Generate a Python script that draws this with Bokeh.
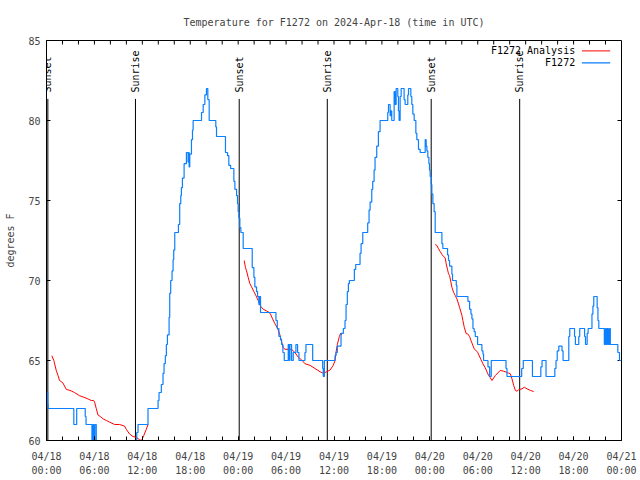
import math
from bokeh.plotting import figure
from bokeh.models import Range1d, FixedTicker
from bokeh.embed import file_html
from bokeh.resources import INLINE
from bokeh.core.properties import value

# ---------------- data (hours since 04/18 00:00 UTC, degrees F) ----------------
title_text = "Temperature for F1272 on 2024-Apr-18 (time in UTC)"
tick_hours = [0, 6, 12, 18, 24, 30, 36, 42, 48, 54, 60, 66, 72]
tick_dates = ["04/18", "04/18", "04/18", "04/18", "04/19", "04/19", "04/19",
              "04/19", "04/20", "04/20", "04/20", "04/20", "04/21"]
tick_clock = ["00:00", "06:00", "12:00", "18:00", "00:00", "06:00", "12:00",
              "18:00", "00:00", "06:00", "12:00", "18:00", "00:00"]
y_ticks = [60, 65, 70, 75, 80, 85]

sunset_t = [0.17, 24.13, 48.17]
sunrise_t = [11.14, 35.16, 59.25]

# F1272 observations (value holds from each time until the next)
blue_t = [0.00, 0.15, 0.20, 3.42, 3.78, 4.85, 4.95, 5.69, 5.81, 5.93, 6.06, 6.23,
          11.16, 11.30, 11.46, 12.71, 13.97, 14.09, 14.38, 14.59, 14.72, 14.88, 15.01,
          15.14, 15.35, 15.43, 15.55, 15.72, 15.85, 15.93, 16.06, 16.52, 16.68, 16.81,
          16.89, 17.02, 17.23, 17.52, 17.73, 17.80, 17.86, 17.94, 18.15, 18.28, 18.36,
          19.41, 19.62, 19.83, 20.03, 20.20, 20.37, 21.20, 21.29, 22.41, 22.67, 22.83,
          23.05, 23.46, 23.59, 23.80, 23.92, 24.00, 24.09, 24.21, 24.34, 24.63,
          25.76, 25.97, 26.09, 26.30, 26.43, 26.59, 26.68, 26.80,
          28.73, 28.90, 29.10, 29.30, 29.44, 29.60, 29.77,
          30.27, 30.40, 30.48, 30.69, 30.90, 31.23, 31.44, 31.61, 32.36, 32.49, 33.33,
          34.58, 34.66, 34.79,
          36.13, 36.25, 36.42, 36.88, 37.17, 37.38, 37.51, 37.67, 37.80, 37.92,
          38.55, 38.72, 39.26, 39.39, 39.60, 40.22, 40.39, 40.52, 40.73, 40.85, 41.02,
          41.14, 41.35, 41.56, 41.77,
          42.73, 42.82, 43.03, 43.15, 43.23, 43.53, 43.65, 43.78, 43.99, 44.07, 44.15,
          44.28, 44.41, 44.78, 44.91, 45.24, 45.33, 45.62, 45.74, 45.87, 46.04, 46.25,
          46.37, 46.58, 46.79,
          47.42, 47.54, 47.63, 47.75, 47.88, 47.96, 48.04, 48.17, 48.25, 48.38, 48.54, 48.67,
          49.51, 49.63, 50.22, 50.34, 50.47, 50.76, 50.84, 51.31, 51.39,
          52.77, 52.98, 53.15, 53.27, 53.40, 53.55, 53.69, 53.98, 54.52, 54.65, 54.73,
          55.28, 55.49, 55.69,
          57.54, 57.66, 59.50, 59.70, 60.85, 61.90, 62.05, 62.55, 63.65, 63.80, 63.95,
          64.15, 64.55, 64.68,
          65.40, 65.52, 66.12, 66.23, 66.65, 66.77, 67.38, 67.49, 67.70, 67.82, 68.30,
          68.42, 68.53, 68.95, 69.05, 69.16,
          69.85, 69.99, 70.10, 70.22, 70.35, 70.49, 70.60, 71.54, 71.75, 72.00]
blue_v = [63.0, 62.3, 62.0, 61.0, 62.0, 61.5, 61.0, 60.0, 61.0, 60.0, 61.0, 59.0,
          60.0, 60.5, 61.0, 62.0, 62.5, 63.0, 63.5, 64.2, 64.8, 65.3, 66.0,
          66.6, 67.7, 69.2, 70.0, 70.6, 71.3, 71.9, 73.0, 73.5, 74.8, 75.3,
          75.8, 76.4, 77.3, 78.0, 77.4, 78.0, 77.1, 77.9, 78.8, 79.4, 80.0,
          80.5, 81.0, 81.6, 82.0, 81.3, 80.0, 79.6, 79.0, 78.0, 77.8, 77.2,
          77.0, 76.2, 75.7, 75.3, 74.8, 74.3, 73.9, 73.3, 73.0, 72.0,
          70.8, 70.2, 69.6, 69.3, 69.0, 68.5, 69.0, 68.0,
          67.5, 67.0, 66.5, 66.3, 66.0, 65.5, 65.0,
          66.0, 65.0, 66.0, 65.0, 65.5, 66.0, 65.5, 65.0, 65.5, 66.0, 65.0,
          64.5, 64.0, 65.0,
          65.3, 65.5, 65.9, 66.7, 67.0, 67.5, 68.5, 69.3, 69.8, 70.0,
          70.7, 71.0, 71.7, 72.3, 73.0, 73.6, 74.4, 74.9, 75.7, 76.2, 76.9,
          77.7, 78.4, 79.3, 80.0,
          80.5, 81.0, 80.3, 80.6, 80.0, 81.8, 81.0, 82.0, 81.5, 80.6, 80.0,
          81.5, 82.0, 81.3, 81.0, 81.6, 82.0, 81.5, 81.0, 80.4, 80.0, 79.2,
          78.8, 78.2, 78.0,
          78.8, 78.4, 78.1, 77.7, 77.3, 76.9, 76.5, 76.0, 75.4, 74.8, 74.3, 73.0,
          72.3, 72.0, 71.6, 71.25, 70.9, 70.4, 70.0, 69.7, 69.0,
          68.7, 68.2, 67.9, 67.6, 67.0, 66.8, 66.5, 66.0, 65.6, 65.4, 65.0,
          64.6, 64.0, 65.0,
          64.5, 64.0, 64.5, 65.0, 64.0, 64.6, 65.0, 64.0, 64.5, 65.0, 65.6,
          65.9, 65.6, 65.0,
          66.5, 67.0, 66.5, 66.0, 66.5, 67.0, 66.5, 66.0, 66.7, 67.0, 67.9,
          68.4, 69.0, 68.3, 67.5, 67.0,
          66.0, 67.0, 66.0, 67.0, 66.0, 67.0, 66.0, 65.5, 65.0, 65.0]

# F1272 Analysis (three separate nightly runs)
red1_t = [0.67, 0.92, 1.21, 1.45, 1.63, 2.05, 2.47, 3.09, 3.50, 4.14, 4.70, 5.19, 5.60,
          5.90, 6.02, 6.23, 6.44, 6.73, 7.10, 7.49, 7.90, 8.53, 9.15, 9.78, 9.99, 10.41,
          10.83, 11.25, 11.67, 11.90, 12.17, 12.50, 12.71]
red1_v = [65.3, 65.0, 64.4, 64.05, 63.75, 63.6, 63.2, 63.1, 63.0, 62.8, 62.7, 62.6, 62.5,
          62.5, 62.4, 62.0, 61.6, 61.5, 61.35, 61.25, 61.15, 61.0, 61.0, 60.9, 60.7, 60.4,
          60.25, 60.2, 60.04, 60.0, 60.3, 60.7, 61.0]
red2_t = [24.75, 24.92, 25.05, 25.25, 25.47, 25.68, 25.97, 26.22, 26.51, 26.80,
          27.14, 27.56, 27.89, 28.05, 28.31, 28.60, 28.94, 29.23, 29.44, 29.65,
          29.86, 30.27, 30.69, 31.11, 31.53, 31.95, 32.36, 32.99, 33.62, 34.25,
          34.66, 35.08, 35.50, 35.91, 36.13, 36.25, 36.42, 36.67, 36.84, 36.96]
red2_v = [71.25, 70.8, 70.6, 70.2, 69.8, 69.6, 69.3, 69.06, 68.75, 68.4,
          68.2, 68.1, 68.0, 67.9, 67.6, 67.3, 67.0, 66.6, 66.15, 65.8,
          65.7, 65.7, 65.7, 65.5, 65.2, 65.04, 64.8, 64.7, 64.5, 64.3,
          64.2, 64.3, 64.4, 64.7, 65.0, 65.5, 66.0, 66.5, 66.7, 66.6]
red3_t = [48.67, 48.88, 49.09, 49.30, 49.51, 49.72, 49.92, 50.05, 50.22, 50.34, 50.47,
          50.64, 50.76, 50.97, 51.18, 51.39, 51.72, 52.02, 52.14, 52.31, 52.56, 52.73,
          52.98, 53.15, 53.56, 53.98, 54.40, 54.65, 54.94, 55.36, 55.57, 55.78, 56.20,
          56.82, 57.24, 57.58, 57.87, 58.08, 58.29, 58.50, 58.71, 58.91, 59.12, 59.54,
          59.83, 60.17, 60.59, 61.00]
red3_v = [72.25, 72.19, 71.98, 71.81, 71.63, 71.5, 71.42, 71.04, 70.67, 70.42, 70.31,
          69.9, 69.58, 69.27, 69.06, 68.85, 68.33, 67.81, 67.5, 67.08, 66.67, 66.67,
          66.5, 66.25, 65.73, 65.52, 65.06, 64.79, 64.54, 64.06, 63.92, 63.75, 64.06,
          64.38, 64.33, 64.27, 64.21, 64.17, 63.85, 63.44, 63.13, 63.08, 63.17, 63.23,
          63.33, 63.23, 63.13, 63.06]

series_names = ["F1272 Analysis", "F1272"]

# ---------------- styling ----------------
FONT = "DejaVu Sans Mono"
FS = "10px"
BLUE = "#0a7fff"
RED = "#ff0000"
X0, X1, Y0, Y1 = 0, 72, 60, 85
TICK_DX = 0.5     # inward tick length on the right edge (hours)
TICK_DY = 0.25    # inward tick length on the top edge (degrees)

p = figure(width=640, height=480, output_backend="svg", toolbar_location=None,
           x_range=Range1d(X0, X1), y_range=Range1d(Y0, Y1),
           min_border_left=46, min_border_right=19, min_border_top=40,
           min_border_bottom=40, title=title_text)
p.title.align = "center"
p.title.text_font = FONT
p.title.text_font_size = FS
p.title.text_font_style = "normal"
p.title.standoff = 26
p.grid.visible = False
p.outline_line_color = "black"
p.outline_line_width = 1
p.background_fill_color = "white"
p.border_fill_color = "white"

minor_x = [h for h in range(X0, X1 + 1, 2)]
xa = p.xaxis[0]
xa.ticker = FixedTicker(ticks=tick_hours, minor_ticks=minor_x)
xa.major_label_overrides = {h: d + "\n" + c for h, d, c in zip(tick_hours, tick_dates, tick_clock)}
xa.major_label_text_line_height = 1.35
ya = p.yaxis[0]
ya.ticker = FixedTicker(ticks=y_ticks, minor_ticks=[])
ya.axis_label = "degrees F"
ya.axis_label_standoff = 9
ya.axis_label_text_font_style = "normal"
ya.axis_label_text_font = FONT
ya.axis_label_text_font_size = FS

for ax in (xa, ya):
    ax.major_label_text_font = FONT
    ax.major_label_text_font_size = FS
    ax.major_tick_in = 4
    ax.major_tick_out = 0
    ax.minor_tick_in = 4
    ax.minor_tick_out = 0
    ax.axis_line_color = "black"
    ax.major_tick_line_color = "black"
    ax.minor_tick_line_color = "black"
xa.major_label_standoff = 10
ya.major_label_standoff = 6

# mirrored inward ticks on the top and right edges
top_x = [h for h in minor_x if X0 < h < X1]
p.segment(x0=top_x, y0=[Y1] * len(top_x), x1=top_x, y1=[Y1 - TICK_DY] * len(top_x),
          line_color="black", line_width=1)
right_y = [v for v in y_ticks if Y0 < v < Y1]
p.segment(x0=[X1 - TICK_DX] * len(right_y), y0=right_y, x1=[X1] * len(right_y), y1=right_y,
          line_color="black", line_width=1)

# sunrise / sunset markers
sun_t = sunset_t + sunrise_t
sun_lbl = ["Sunset"] * len(sunset_t) + ["Sunrise"] * len(sunrise_t)
p.segment(x0=sun_t, y0=[Y0] * len(sun_t), x1=sun_t, y1=[81.35] * len(sun_t),
          line_color="black", line_width=1)
p.text(x=sun_t, y=[81.75] * len(sun_t), text=sun_lbl, angle=math.pi / 2,
       text_align="left", text_baseline="middle", text_font=value(FONT),
       text_font_size=FS, text_color="black")

# data series
for t, v in ((red1_t, red1_v), (red2_t, red2_v), (red3_t, red3_v)):
    p.line(t, v, line_color=RED, line_width=1)
p.step(blue_t, blue_v, mode="after", line_color=BLUE, line_width=1.2)

# key (top right, text right-aligned with sample to the right)
key_y = [84.35, 83.6]
p.text(x=[66.2, 66.2], y=key_y, text=series_names, text_align="right",
       text_baseline="middle", text_font=value(FONT), text_font_size=FS,
       text_color="black")
p.segment(x0=[67.05, 67.05], y0=key_y, x1=[70.58, 70.58], y1=key_y,
          line_color=[RED, BLUE], line_width=[1, 1.2])

open("out.html", "w").write(file_html(p, INLINE, title_text))
